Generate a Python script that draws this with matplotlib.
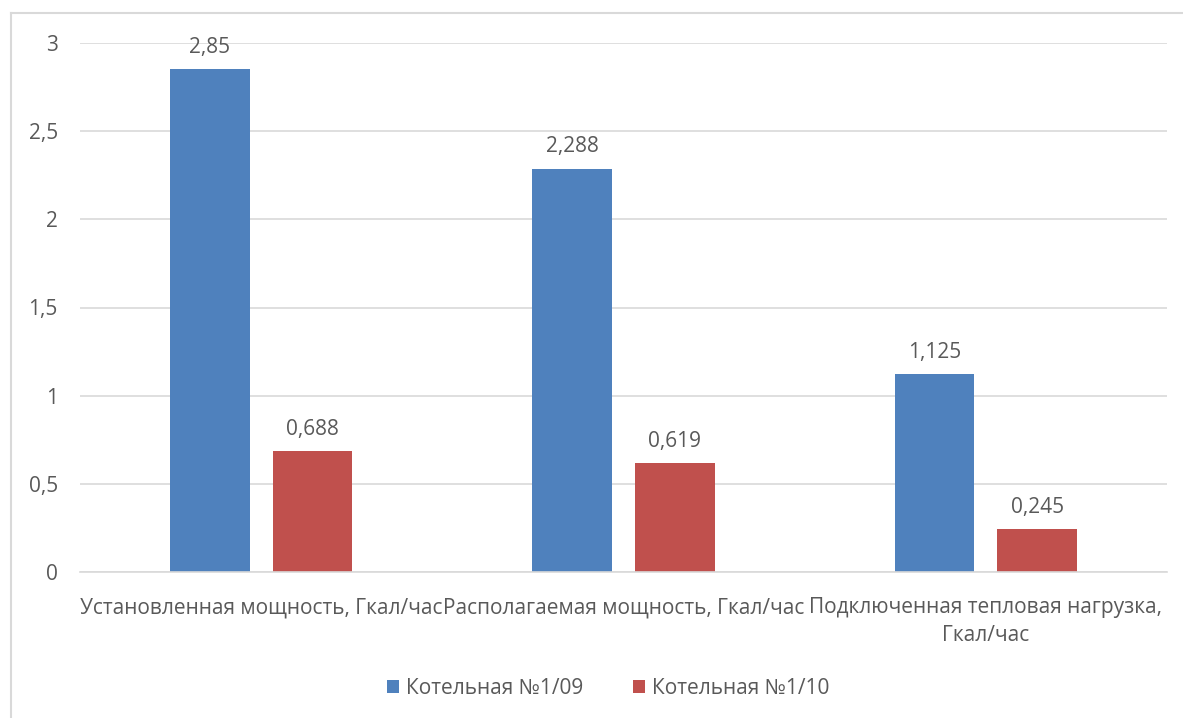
import matplotlib.pyplot as plt
import numpy as np
from matplotlib.lines import Line2D

categories = ["Установленная мощность, Гкал/час",
              "Располагаемая мощность, Гкал/час",
              "Подключенная тепловая нагрузка,\nГкал/час"]
series_names = ["Котельная №1/09", "Котельная №1/10"]
boiler_09 = [2.85, 2.288, 1.125]
boiler_10 = [0.688, 0.619, 0.245]
yticks = [0, 0.5, 1, 1.5, 2, 2.5, 3]

plt.rcParams['font.family'] = ['Open Sans', 'DejaVu Sans']
text_color = "#595959"
grid_color = "#D9D9D9"
colors = ["#4F81BD", "#C0504D"]

W, H = 1183, 718
fig = plt.figure(figsize=(W / 100, H / 100), dpi=100)
ax = fig.add_axes([80 / W, 1 - 572 / H, (1167 - 80) / W, (572 - 43) / H])

x = np.arange(len(categories))
width = 0.22
offset = 0.142
for vals, off, col, name in zip([boiler_09, boiler_10], [-offset, offset], colors, series_names):
    bars = ax.bar(x + off, vals, width, color=col, label=name, zorder=3)
    for b, v in zip(bars, vals):
        ax.annotate(f"{v:g}".replace(".", ","), (b.get_x() + b.get_width() / 2, v),
                    xytext=(0, 8), textcoords="offset points", ha="center", va="bottom",
                    fontsize=15, color=text_color)

ax.set_xlim(-0.5, 2.5)
ax.set_ylim(0, 3)
ax.set_yticks(yticks)
ax.set_yticklabels([f"{t:g}".replace(".", ",") for t in yticks])
ax.set_xticks(x)
ax.set_xticklabels(categories, linespacing=1.45)
ax.tick_params(length=0, labelsize=15, colors=text_color)
ax.tick_params(axis="y", pad=16)
ax.tick_params(axis="x", pad=18)
ax.yaxis.grid(True, color=grid_color, linewidth=1.2, zorder=0)
for s in ["top", "right", "left"]:
    ax.spines[s].set_visible(False)
ax.spines["bottom"].set_color(grid_color)
ax.spines["bottom"].set_linewidth(1.2)
ax.spines["bottom"].set_zorder(4)

fig.legend(loc="center", bbox_to_anchor=(608 / W, 1 - 688 / H), ncol=2, frameon=False,
           fontsize=15, labelcolor=text_color, handlelength=0.6, handleheight=0.6,
           columnspacing=2.4, handletextpad=0.3)

# outer chart border (left and top visible)
fig.add_artist(Line2D([10.5 / W, 10.5 / W], [0, 1 - 13 / H], color=grid_color, linewidth=1.5,
                      transform=fig.transFigure))
fig.add_artist(Line2D([10.5 / W, 1], [1 - 13 / H, 1 - 13 / H], color=grid_color, linewidth=1.5,
                      transform=fig.transFigure))

fig.savefig("out.png", dpi=100)
